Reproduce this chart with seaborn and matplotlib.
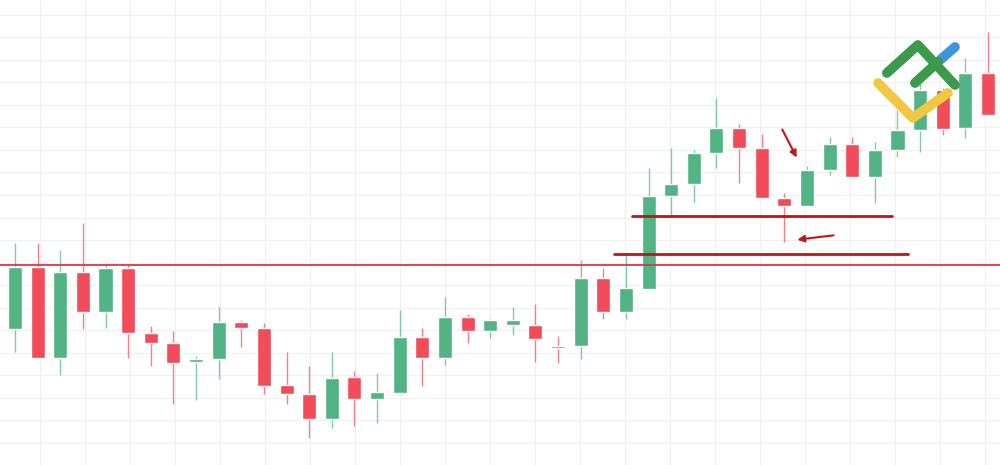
import numpy as np
import matplotlib
matplotlib.use("Agg")
import matplotlib.pyplot as plt
import seaborn as sns

# price values expressed on the chart's vertical scale (inverted pixel-like units)
opens  = [367,329,267,358,272,312,268,333,343,362,359,322,328,385,394,419,377,399,393,337,358,317,331,325,325,346,346,278,312,289,196,184,153,128,148,198,206,170,144,177,150,130,90,128,73]
closes = [330,267,358,272,312,268,333,343,363,359,322,328,386,394,419,378,399,392,337,358,317,331,320,320,339,346,278,312,288,196,184,153,128,148,198,206,170,144,177,150,130,90,129,73,115]
highs  = [320,243,243,250,223,263,265,326,331,356,307,320,323,352,366,352,371,373,310,328,297,314,319,307,304,336,260,268,253,168,148,150,98,124,134,193,166,137,137,142,110,83,88,58,32]
lows   = [370,352,358,375,329,328,358,366,404,400,379,347,394,404,438,428,426,423,393,386,365,343,338,335,362,363,359,319,319,289,215,202,168,183,198,242,206,175,177,203,157,152,135,138,115]
level_main = 265
level_a, level_b = 216, 254

sns.set_style("white")
fig = plt.figure(figsize=(10, 4.65), dpi=100)
ax = fig.add_axes([0, 0, 1, 1])
ax.set_xlim(0.337, 44.53)
ax.set_ylim(465, 0)

# light grid
for gx in np.arange(0.337 + 40/22.63, 45, 45/22.63):
    ax.axvline(gx, color="#f0f0f0", lw=0.8, zorder=0)
for gy in np.arange(15, 465, 22.5):
    ax.axhline(gy, color="#f0f0f0", lw=0.8, zorder=0)

green, red = "#52b385", "#f24b5a"
idx = np.arange(len(opens))
for i in idx:
    o, c = opens[i], closes[i]
    col = green if c < o else red
    ax.vlines(i, highs[i], lows[i], color=col, lw=1, alpha=0.7, zorder=2)
    ax.bar(i, abs(o - c) if abs(o-c) > 0 else 2, bottom=min(o, c), width=0.62, color=col, zorder=3)

ax.axhline(level_main, color="#d23a48", lw=1.3, zorder=4)
ax.plot([28.26, 39.75], [level_a, level_a], color="#b81818", lw=2, zorder=4)
ax.plot([27.47, 40.46], [level_b, level_b], color="#b81818", lw=2, zorder=4)
ax.annotate("", xy=(35.6, 160), xytext=(34.85, 127), arrowprops=dict(arrowstyle="-|>", color="#c01818", lw=1.5), zorder=5)
ax.annotate("", xy=(35.45, 240), xytext=(37.3, 235), arrowprops=dict(arrowstyle="-|>", color="#c01818", lw=1.5), zorder=5)

# logo
ax.plot([41.88, 42.54], [60, 47], color="#3d95e0", lw=7, solid_capstyle="round", zorder=5)
ax.plot([39.14, 40.68, 42.23], [83, 118, 93], color="#f2c842", lw=7, solid_capstyle="round", zorder=7)
ax.plot([39.53, 40.90, 42.54], [73, 45, 85], color="#3c9a4c", lw=7, solid_capstyle="round", zorder=6)
ax.plot([40.77, 41.79], [83, 62], color="#3c9a4c", lw=7, solid_capstyle="round", zorder=6)

ax.axis("off")
fig.savefig("out.png", dpi=100)
